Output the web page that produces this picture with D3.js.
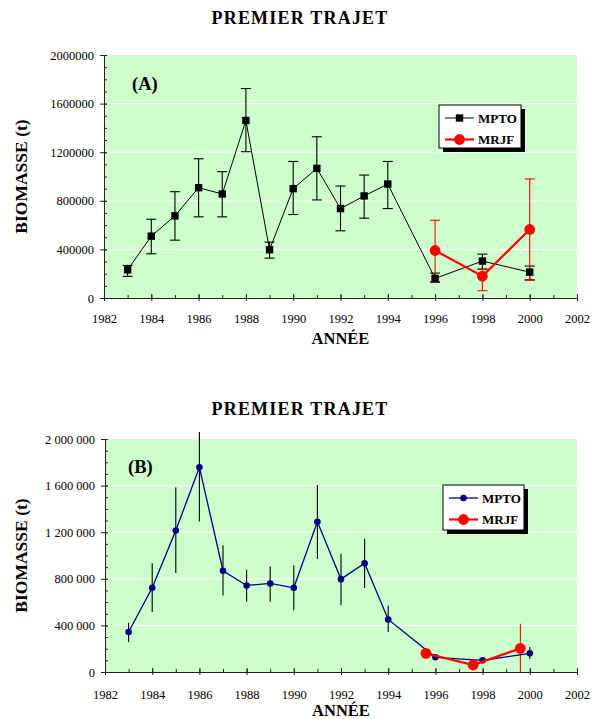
<!DOCTYPE html>
<html>
<head>
<meta charset="utf-8">
<script src="https://cdn.jsdelivr.net/npm/d3@7"></script>
<style>
  body { margin: 0; background: #fff; }
  svg text { font-family: "Liberation Serif", "Times New Roman", serif !important; }
  .axis path, .axis line { stroke: #222; }
  .axis text { font-size: 12.5px; fill: #000; }
</style>
</head>
<body>
<svg id="chart" width="602" height="719" font-family="Liberation Serif, serif"></svg>
<script>
// Panel A data
const yearsA = [1983, 1984, 1985, 1986, 1987, 1988, 1989, 1990, 1991, 1992, 1993, 1994, 1996, 1998, 2000];
const mptoA = [232000, 509000, 676000, 908000, 856000, 1461000, 397000, 900000, 1067000, 736000, 840000, 938000, 161000, 304000, 213000];
const mptoALo = [178000, 364000, 476000, 668000, 668000, 1204000, 328000, 687000, 807000, 553000, 657000, 736000, 129000, 238000, 150000];
const mptoAHi = [268000, 648000, 875000, 1146000, 1040000, 1724000, 460000, 1124000, 1327000, 922000, 1012000, 1124000, 205000, 361000, 263000];
const mrjfYearsA = [1996, 1998, 2000];
const mrjfA = [391000, 180000, 564000];
const mrjfALo = [134000, 60000, 145000];
const mrjfAHi = [640000, 238000, 980000];

// Panel B data
const yearsB = [1983, 1984, 1985, 1986, 1987, 1988, 1989, 1990, 1991, 1992, 1993, 1994, 1996, 1998, 2000];
const mptoB = [343000, 723000, 1214000, 1757000, 869000, 743000, 760000, 723000, 1289000, 797000, 934000, 451000, 126000, 100000, 160000];
const mptoBLo = [257000, 514000, 849000, 1291000, 657000, 603000, 603000, 531000, 969000, 574000, 720000, 343000, 126000, 100000, 111000];
const mptoBHi = [423000, 934000, 1586000, 2060000, 1089000, 877000, 906000, 914000, 1606000, 1014000, 1143000, 569000, 126000, 100000, 214000];
const mrjfYearsB = [1995.6, 1997.6, 1999.6];
const mrjfB = [160000, 60000, 203000];
const mrjfBLo = [160000, 60000, 0];
const mrjfBHi = [160000, 60000, 414000];

const xTicks = [1982, 1984, 1986, 1988, 1990, 1992, 1994, 1996, 1998, 2000, 2002];
const yTicks = [0, 400000, 800000, 1200000, 1600000, 2000000];
const seriesNames = ['MPTO', 'MRJF'];

const FONT = 'Liberation Serif, Times New Roman, serif';
const svg = d3.select('#chart');
const spaced = d3.formatLocale({ decimal: ',', thousands: '\u00a0', grouping: [3], currency: ['', ''] }).format(',d');

function drawPanel(p) {
  const x = d3.scaleLinear().domain([1982, 2002]).range([p.left, p.right]);
  const y = d3.scaleLinear().domain([0, 2000000]).range([p.bottom, p.top]);
  const g = svg.append('g');

  g.append('rect')
    .attr('x', p.left).attr('y', p.top)
    .attr('width', p.right - p.left).attr('height', p.bottom - p.top)
    .attr('fill', '#ccffcc');

  g.selectAll('.grid')
    .data(yTicks.slice(1, -1))
    .join('line')
    .attr('x1', p.left).attr('x2', p.right)
    .attr('y1', d => y(d)).attr('y2', d => y(d))
    .attr('stroke', '#fff').attr('stroke-width', 1);

  // minor ticks (inside)
  g.append('g').attr('class', 'axis')
    .attr('transform', `translate(${p.left},0)`)
    .call(d3.axisLeft(y).tickValues(d3.range(0, 2000001, 100000)).tickSize(-3).tickFormat(''))
    .select('.domain').remove();
  g.append('g').attr('class', 'axis')
    .attr('transform', `translate(0,${p.bottom})`)
    .call(d3.axisBottom(x).tickValues(d3.range(1982, 2003)).tickSize(-3).tickFormat(''))
    .select('.domain').remove();

  g.append('g').attr('class', 'axis')
    .attr('transform', `translate(${p.left},0)`)
    .call(d3.axisLeft(y).tickValues(yTicks).tickSize(4).tickSizeOuter(0).tickPadding(6).tickFormat(p.fmt))
    .attr('font-family', FONT).attr('font-size', 12.5);
  g.append('g').attr('class', 'axis')
    .attr('transform', `translate(0,${p.bottom})`)
    .call(d3.axisBottom(x).tickValues(xTicks).tickSize(3).tickSizeOuter(0).tickPadding(p.xPad).tickFormat(d3.format('d')))
    .attr('font-family', FONT).attr('font-size', 12.5);
  // major ticks also cross inside
  g.append('g').attr('class', 'axis')
    .attr('transform', `translate(${p.left},0)`)
    .call(d3.axisLeft(y).tickValues(yTicks).tickSize(-3).tickFormat(''))
    .select('.domain').remove();
  g.append('g').attr('class', 'axis')
    .attr('transform', `translate(0,${p.bottom})`)
    .call(d3.axisBottom(x).tickValues(xTicks).tickSize(-4).tickFormat(''))
    .select('.domain').remove();

  function errorBars(years, lo, hi, color, cap) {
    const idx = d3.range(years.length);
    g.selectAll(null).data(idx).join('line')
      .attr('x1', i => x(years[i])).attr('x2', i => x(years[i]))
      .attr('y1', i => Math.max(y(hi[i]), p.top - 15)).attr('y2', i => y(lo[i]))
      .attr('stroke', color).attr('stroke-width', 1.1);
    if (cap) {
      [lo, hi].forEach(arr => {
        g.selectAll(null).data(idx).join('line')
          .attr('x1', i => x(years[i]) - cap).attr('x2', i => x(years[i]) + cap)
          .attr('y1', i => y(arr[i])).attr('y2', i => y(arr[i]))
          .attr('stroke', color).attr('stroke-width', 1.1);
      });
    }
  }

  const line = d3.line().x(d => x(d[0])).y(d => y(d[1]));
  const mpto = d3.zip(p.years, p.mpto);
  const mrjf = d3.zip(p.mrjfYears, p.mrjf);

  errorBars(p.years, p.mptoLo, p.mptoHi, p.barColor, p.cap);
  errorBars(p.mrjfYears, p.mrjfLo, p.mrjfHi, '#ff0000', p.cap);

  g.append('path').datum(mpto).attr('d', line)
    .attr('fill', 'none').attr('stroke', p.color).attr('stroke-width', p.lineW);
  if (p.square) {
    g.selectAll(null).data(mpto).join('rect')
      .attr('x', d => x(d[0]) - 3.7).attr('y', d => y(d[1]) - 3.7)
      .attr('width', 7.4).attr('height', 7.4).attr('fill', p.color);
  } else {
    g.selectAll(null).data(mpto).join('circle')
      .attr('cx', d => x(d[0])).attr('cy', d => y(d[1])).attr('r', 3.3).attr('fill', p.color);
  }

  g.append('path').datum(mrjf).attr('d', line)
    .attr('fill', 'none').attr('stroke', '#ff0000').attr('stroke-width', 2.2);
  g.selectAll(null).data(mrjf).join('circle')
    .attr('cx', d => x(d[0])).attr('cy', d => y(d[1])).attr('r', 5.4).attr('fill', '#ff0000');

  // titles and labels
  g.append('text').attr('x', 300).attr('y', p.titleY).attr('text-anchor', 'middle')
    .attr('font-family', FONT).attr('font-size', 18).attr('font-weight', 'bold').attr('letter-spacing', 1.2)
    .text('PREMIER TRAJET');
  g.append('text').attr('x', p.tagX).attr('y', p.tagY).attr('font-family', FONT)
    .attr('font-size', 18.5).attr('font-weight', 'bold').text(p.tag);
  g.append('text').attr('transform', `translate(27,${(p.top + p.bottom) / 2}) rotate(-90)`)
    .attr('text-anchor', 'middle').attr('font-family', FONT).attr('font-size', 17.5).attr('font-weight', 'bold')
    .text('BIOMASSE (t)');
  g.append('text').attr('x', (p.left + p.right) / 2).attr('y', p.xTitleY).attr('text-anchor', 'middle')
    .attr('font-family', FONT).attr('font-size', 16.5).attr('font-weight', 'bold').text('ANNÉE');

  // legend
  const L = p.legend;
  g.append('rect').attr('x', L.x + 4).attr('y', L.y + 4).attr('width', L.w).attr('height', L.h).attr('fill', '#000');
  g.append('rect').attr('x', L.x).attr('y', L.y).attr('width', L.w).attr('height', L.h)
    .attr('fill', '#fff').attr('stroke', '#000').attr('stroke-width', 1);
  seriesNames.forEach((name, i) => {
    const ly = L.y + 13 + i * 21.5;
    const color = i === 0 ? p.color : '#ff0000';
    g.append('line').attr('x1', L.x + 6).attr('x2', L.x + 35).attr('y1', ly).attr('y2', ly)
      .attr('stroke', color).attr('stroke-width', i === 0 ? p.lineW : 2.2);
    if (i === 0 && p.square) {
      g.append('rect').attr('x', L.x + 20.5 - 3.7).attr('y', ly - 3.7).attr('width', 7.4).attr('height', 7.4).attr('fill', color);
    } else {
      g.append('circle').attr('cx', L.x + 20.5).attr('cy', ly).attr('r', i === 0 ? 3.3 : 5.4).attr('fill', color);
    }
    g.append('text').attr('x', L.x + 39).attr('y', ly + 4.5).attr('font-family', FONT)
      .attr('font-size', 13).attr('font-weight', 'bold').text(name);
  });
}

drawPanel({
  left: 104, right: 577, top: 55, bottom: 298,
  years: yearsA, mpto: mptoA, mptoLo: mptoALo, mptoHi: mptoAHi,
  mrjfYears: mrjfYearsA, mrjf: mrjfA, mrjfLo: mrjfALo, mrjfHi: mrjfAHi,
  color: '#000', barColor: '#000', lineW: 1, square: true, cap: 5,
  fmt: d3.format('d'), xPad: 13,
  titleY: 24, tag: '(A)', tagX: 132, tagY: 90, xTitleY: 344,
  legend: { x: 439, y: 105, w: 82, h: 43 }
});

drawPanel({
  left: 105, right: 577, top: 439, bottom: 672,
  years: yearsB, mpto: mptoB, mptoLo: mptoBLo, mptoHi: mptoBHi,
  mrjfYears: mrjfYearsB, mrjf: mrjfB, mrjfLo: mrjfBLo, mrjfHi: mrjfBHi,
  color: '#000080', barColor: '#000', lineW: 1.3, square: false, cap: 0,
  fmt: spaced, xPad: 15,
  titleY: 415, tag: '(B)', tagX: 128, tagY: 473, xTitleY: 716,
  legend: { x: 443, y: 485, w: 81, h: 45 }
});
</script>
</body>
</html>
